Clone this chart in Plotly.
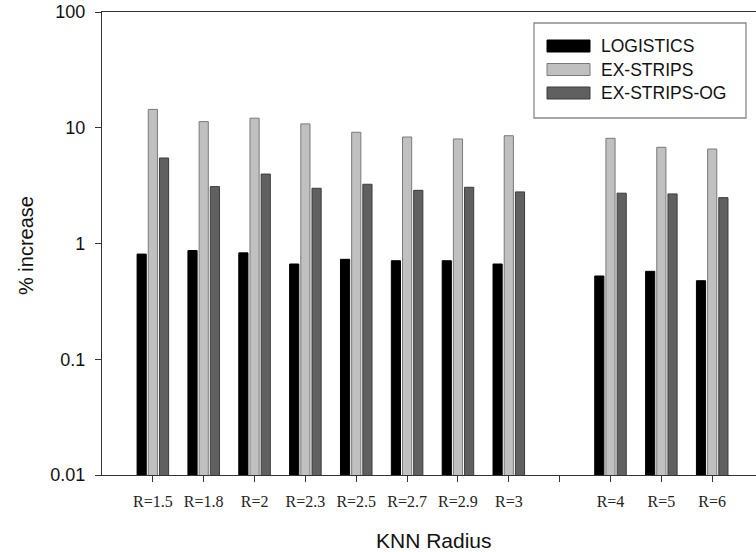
import plotly.graph_objects as go

# KNN radius settings (a blank slot separates R=3 from R=4 on the axis)
radius_labels = ["R=1.5", "R=1.8", "R=2", "R=2.3", "R=2.5", "R=2.7",
                 "R=2.9", "R=3", "R=4", "R=5", "R=6"]
gap_after = 8  # index of the first label placed after the blank slot

# % increase per domain
logistics = [0.81, 0.87, 0.83, 0.665, 0.73, 0.71, 0.71, 0.665, 0.524, 0.575, 0.477]
ex_strips = [14.4, 11.3, 12.1, 10.8, 9.14, 8.32, 8.0, 8.53, 8.1, 6.78, 6.55]
ex_strips_og = [5.48, 3.10, 3.98, 3.0, 3.25, 2.88, 3.06, 2.79, 2.72, 2.68, 2.49]

series_names = ["LOGISTICS", "EX-STRIPS", "EX-STRIPS-OG"]
y_ticks = [0.01, 0.1, 1, 10, 100]
y_tick_text = ["0.01", "0.1", "1", "10", "100"]

# slot positions on a numeric axis
x_pos = [i + (1 if i >= gap_after else 0) for i in range(len(radius_labels))]
n_slots = len(radius_labels) + 1
tick_vals = list(range(n_slots))
tick_text = radius_labels[:gap_after] + [""] + radius_labels[gap_after:]

W, H = 756, 552
ML, MR, MT, MB = 102, 0, 12, 77
PW, PH = W - ML - MR, H - MT - MB


def px_x(p):
    return (p - ML) / PW


def px_y(p):
    return (H - MB - p) / PH


styles = [
    dict(color="#000000", line=dict(color="#000000", width=1)),
    dict(color="#c0c0c0", line=dict(color="#7a7a7a", width=1)),
    dict(color="#606060", line=dict(color="#3c3c3c", width=1)),
]

fig = go.Figure()
for name, vals, st in zip(series_names, [logistics, ex_strips, ex_strips_og], styles):
    fig.add_trace(go.Bar(x=x_pos, y=vals, name=name, marker=st, showlegend=False))

# legend box drawn as shapes and text
shapes = [dict(type="rect", xref="paper", yref="paper",
               x0=px_x(534), x1=px_x(746), y0=px_y(118), y1=px_y(23),
               line=dict(color="#8a8a8a", width=1.3), fillcolor="white")]
annotations = []
row_centers = [46, 69.5, 93]
for name, st, cy in zip(series_names, styles, row_centers):
    shapes.append(dict(type="rect", xref="paper", yref="paper",
                       x0=px_x(547), x1=px_x(590), y0=px_y(cy + 6), y1=px_y(cy - 6),
                       fillcolor=st["color"], line=dict(color=st["line"]["color"], width=1)))
    annotations.append(dict(xref="paper", yref="paper", x=px_x(599), y=px_y(cy),
                            xanchor="left", yanchor="middle", text=name, showarrow=False,
                            font=dict(family="Liberation Sans, Arial", size=17.5, color="#111")))

# axis titles
annotations.append(dict(xref="paper", yref="paper", x=px_x(434), y=px_y(540),
                        xanchor="center", yanchor="middle", text="KNN Radius", showarrow=False,
                        font=dict(family="Liberation Sans, Arial", size=21, color="#111")))
annotations.append(dict(xref="paper", yref="paper", x=px_x(26), y=px_y(246),
                        xanchor="center", yanchor="middle", text="% increase", showarrow=False,
                        textangle=-90,
                        font=dict(family="Liberation Sans, Arial", size=20, color="#111")))

fig.update_layout(
    width=W, height=H,
    margin=dict(l=ML, r=MR, t=MT, b=MB, pad=0),
    paper_bgcolor="white", plot_bgcolor="white",
    barmode="group", bargap=0.34, bargroupgap=0.18,
    shapes=shapes, annotations=annotations,
    xaxis=dict(range=[-1, -1 + PW / 50.85], tickmode="array", tickvals=tick_vals,
               ticktext=tick_text, ticks="outside", ticklen=6, tickwidth=1.2,
               tickcolor="#333", showline=True, linecolor="#333", linewidth=1.3,
               mirror=True, showgrid=False, zeroline=False,
               tickfont=dict(family="Liberation Serif, Times New Roman", size=16, color="#222"),
               ticklabelstandoff=6),
    yaxis=dict(type="log", range=[-2, 2], tickmode="array", tickvals=y_ticks,
               ticktext=y_tick_text, ticks="outside", ticklen=6, tickwidth=1.2,
               tickcolor="#333", showline=True, linecolor="#333", linewidth=1.3,
               showgrid=False, zeroline=False,
               tickfont=dict(family="Liberation Sans, Arial", size=18, color="#111"),
               ticklabelstandoff=6),
)

fig.write_html("out.html")
